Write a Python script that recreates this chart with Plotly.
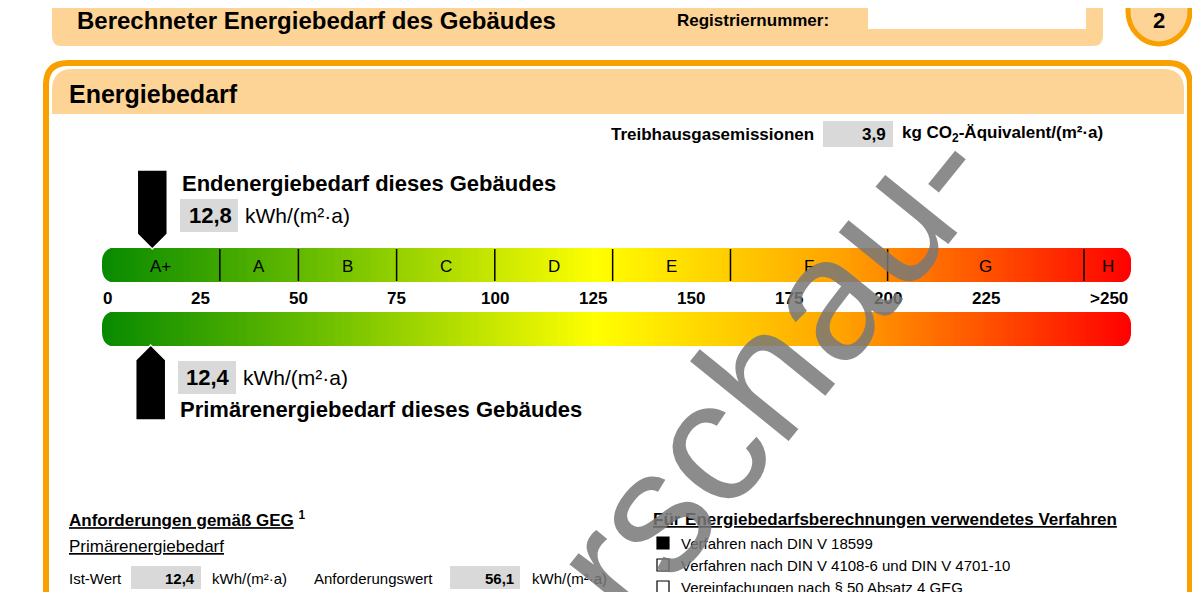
import numpy as np
import plotly.graph_objects as go

# energy classes and their upper bounds in kWh/(m²·a)
classes = ["A+", "A", "B", "C", "D", "E", "F", "G", "H"]
class_bounds = [0, 30, 50, 75, 100, 130, 160, 200, 250, 262]
tick_values = [0, 25, 50, 75, 100, 125, 150, 175, 200, 225, 250]
tick_labels = ["0", "25", "50", "75", "100", "125", "150", "175", "200", "225", ">250"]
end_energy = 12.8
primary_energy = 12.4
co2 = 3.9
ist_wert = 12.4
anforderung = 56.1

FONT = "Liberation Sans"
x0_px, px_per_unit = 102, 3.928


def px(v):
    return x0_px + v * px_per_unit


fig = go.Figure()
scale = [[0, "#078a00"], [0.22, "#6fc000"], [0.48, "#ffff00"], [0.72, "#ffa200"], [1, "#ff0000"]]
xe_edges = np.linspace(px(0), px(262), 301)
zc = (xe_edges[:-1] + xe_edges[1:]) / 2
for y_top in (248, 312):
    fig.add_trace(go.Heatmap(x=xe_edges, y=[y_top, y_top + 34], z=[zc], colorscale=scale,
                             zmin=px(0), zmax=px(262), showscale=False, hoverinfo="skip"))

shapes = []
anns = []


def txt(x, y, s, size=17, bold=False, anchor="left", color="black", **kw):
    anns.append(dict(x=x, y=y, text=f"<b>{s}</b>" if bold else s, showarrow=False, xanchor=anchor,
                     yanchor="middle", font=dict(family=FONT, size=size, color=color), **kw))


def rect(x0, y0, x1, y1, fill, line=None, lw=0, layer="below"):
    shapes.append(dict(type="rect", x0=x0, y0=y0, x1=x1, y1=y1, fillcolor=fill,
                       line=dict(color=line or fill, width=lw), layer=layer))


def rounded(x0, y0, x1, y1, r, fill, line, lw):
    p = (f"M{x0+r},{y0} L{x1-r},{y0} Q{x1},{y0} {x1},{y0+r} L{x1},{y1-r} Q{x1},{y1} {x1-r},{y1} "
         f"L{x0+r},{y1} Q{x0},{y1} {x0},{y1-r} L{x0},{y0+r} Q{x0},{y0} {x0+r},{y0} Z")
    shapes.append(dict(type="path", path=p, fillcolor=fill, line=dict(color=line, width=lw), layer="below"))


# header box (page top sits in the 8px body margin, so header text is nudged down)
rounded(52, -20, 1103, 46, 10, "#fdd496", "#fdd496", 0)
txt(75, 20, "Berechneter Energiebedarf des Gebäudes", 24, True)
txt(675, 20, "Registriernummer:", 17, True)
rect(868, -5, 1086, 29, "white")
shapes.append(dict(type="circle", x0=1128, y0=-22, x1=1190, y1=44, fillcolor="#fdd496",
                   line=dict(color="#f7a000", width=5), layer="below"))
txt(1159, 20, "2", 22, True, "center")

# main panel
rounded(46, 63, 1190, 680, 22, "white", "#f7a000", 6)
shapes.append(dict(type="path", path="M52,114 L52,90 Q52,69 73,69 L1163,69 Q1184,69 1184,90 L1184,114 Z",
                   fillcolor="#fdd496", line=dict(width=0), layer="below"))
txt(67, 94, "Energiebedarf", 25, True)

txt(816, 134, "Treibhausgasemissionen", 17, True, "right")
rect(823, 121, 893, 147, "#d9d9d9")
txt(888, 134, f"{co2:.1f}".replace(".", ","), 17, True, "right")
txt(900, 134, "kg CO<sub>2</sub>-Äquivalent/(m²·a)", 17, True)

# class separators and letters
for i, c in enumerate(classes):
    lo, hi = class_bounds[i], class_bounds[i + 1]
    txt((px(lo) + px(hi)) / 2, 266, c, 17, False, "center")
    if i > 0:
        shapes.append(dict(type="line", x0=px(lo), x1=px(lo), y0=249, y1=281, line=dict(color="black", width=1.5)))
for v, lab in zip(tick_values, tick_labels):
    if v == 250:
        txt(px(262) - 1, 298, lab, 17, True, "right")
    else:
        txt(px(v) + (5 if v == 0 else 0), 298, lab, 17, True, "center")

# round the bar ends with white corner masks
r = 14
for y0 in (248, 312):
    y1 = y0 + 34
    a, b = px(0), px(262)
    shapes.append(dict(type="path", layer="above", fillcolor="white", line=dict(width=0),
                       path=f"M{a-1},{y0-1} L{a+r},{y0-1} Q{a},{y0} {a},{y0+r} L{a},{y1-r} Q{a},{y1} {a+r},{y1+1} L{a-1},{y1+1} Z"))
    shapes.append(dict(type="path", layer="above", fillcolor="white", line=dict(width=0),
                       path=f"M{b+1},{y0-1} L{b-r},{y0-1} Q{b},{y0} {b},{y0+r} L{b},{y1-r} Q{b},{y1} {b-r},{y1+1} L{b+1},{y1+1} Z"))

# arrows
xe = px(end_energy)
shapes.append(dict(type="path", path=f"M{xe-15},170 L{xe+15},170 L{xe+15},234 L{xe},249 L{xe-15},234 Z",
                   fillcolor="black", line=dict(color="white", width=1.5)))
xp = px(primary_energy)
shapes.append(dict(type="path", path=f"M{xp-15},420 L{xp+15},420 L{xp+15},360 L{xp},345 L{xp-15},360 Z",
                   fillcolor="black", line=dict(color="white", width=1.5)))
txt(180, 183, "Endenergiebedarf dieses Gebäudes", 22, True)
rect(180, 199, 238, 232, "#d9d9d9")
txt(234, 215, f"{end_energy:.1f}".replace(".", ","), 22, True, "right")
txt(243, 215, "kWh/(m²·a)", 21)
rect(178, 361, 236, 394, "#d9d9d9")
txt(232, 377, f"{primary_energy:.1f}".replace(".", ","), 22, True, "right")
txt(241, 377, "kWh/(m²·a)", 21)
txt(178, 409, "Primärenergiebedarf dieses Gebäudes", 22, True)

# lower sections
txt(67, 519, "<u>Anforderungen gemäß GEG</u> <sup>1</sup>", 17, True)
txt(67, 546, "<u>Primärenergiebedarf</u>", 17)
txt(67, 578, "Ist-Wert", 15)
rect(131, 566, 201, 589, "#d9d9d9")
txt(197, 578, f"{ist_wert:.1f}".replace(".", ","), 15, True, "right")
txt(210, 578, "kWh/(m²·a)", 15)
txt(312, 578, "Anforderungswert", 15)
rect(450, 566, 520, 589, "#d9d9d9")
txt(516, 578, f"{anforderung:.1f}".replace(".", ","), 15, True, "right")
txt(530, 578, "kWh/(m²·a)", 15)

txt(651, 519, "<u>Für Energiebedarfsberechnungen verwendetes Verfahren</u>", 17, True)
methods = ["Verfahren nach DIN V 18599", "Verfahren nach DIN V 4108-6 und DIN V 4701-10",
           "Vereinfachungen nach § 50 Absatz 4 GEG"]
for i, m in enumerate(methods):
    y = 543 + i * 22
    rect(657, y - 6, 669, y + 6, "black" if i == 0 else "white", "black", 1.2, "above")
    txt(679, y, m, 15)

# watermark
txt(706, 446, "Vorschau-", 175, False, "center", "rgba(120,120,120,0.85)", textangle=-51)

# page body has an 8px margin, so draw 1184x584 and map page pixels 8..1192
fig.update_layout(width=1184, height=584, margin=dict(l=0, r=0, t=0, b=0),
                  plot_bgcolor="white", paper_bgcolor="white", shapes=shapes, annotations=anns,
                  xaxis=dict(range=[8, 1192], visible=False, fixedrange=True),
                  yaxis=dict(range=[592, 8], visible=False, fixedrange=True), showlegend=False)
fig.write_html("out.html")
